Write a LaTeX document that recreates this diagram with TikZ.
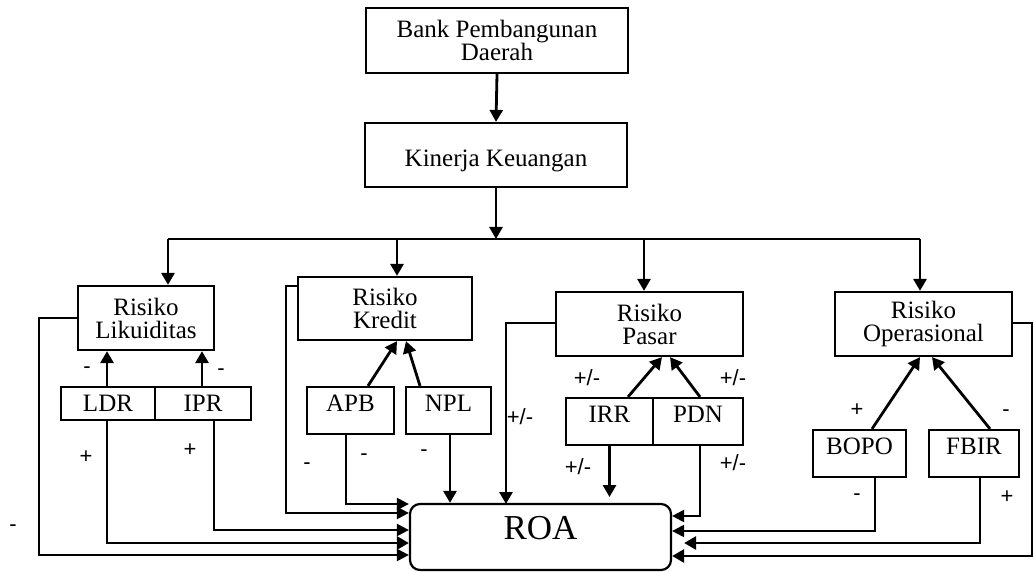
\documentclass[tikz,border=0pt]{standalone}
\usepackage{fontspec}
\setmainfont{Liberation Serif}
\newfontfamily\lblfont{Liberation Sans}
\usetikzlibrary{arrows.meta,calc}
\begin{document}
\begin{tikzpicture}[x=0.5pt,y=-0.5pt,
  box/.style={draw,line width=1.1pt,inner sep=0pt,align=center,font=\fontsize{12.5}{11.5}\selectfont},
  roabox/.style={draw,line width=1.1pt,rounded corners=5pt,inner sep=0pt,font=\fontsize{17.5}{17}\selectfont},
  arr/.style={line width=1.4pt,-{Triangle[length=6pt,width=6.5pt]}},
  tarr/.style={line width=1.1pt,-{Triangle[length=6pt,width=6pt]}},
  ln/.style={line width=1.1pt},
  lbl/.style={font=\lblfont\fontsize{11}{11}\selectfont,inner sep=0pt}]
\useasboundingbox (0,0) rectangle (1034,572);
% boxes
\node[box,minimum width=131pt,minimum height=32.5pt] (bank) at (497,40.5) {Bank Pembangunan\\Daerah};
\node[box,minimum width=131pt,minimum height=32pt] (kin) at (496,155) {\smash{\raisebox{-6pt}{Kinerja Keuangan}}};
\node[box,minimum width=68pt,minimum height=32pt] (lik) at (146,318) {Risiko\\Likuiditas};
\node[box,minimum width=87pt,minimum height=31.5pt] (kre) at (385,308.5) {Risiko\\Kredit};
\node[box,minimum width=93.5pt,minimum height=32pt] (pas) at (649.5,324) {Risiko\\Pasar};
\node[box,minimum width=88.5pt,minimum height=32pt] (ope) at (923.5,324) {Risiko\\Operasional};
\node[box,minimum width=47pt,minimum height=16.5pt] (ldr) at (108,403.5) {LDR};
\node[box,minimum width=48pt,minimum height=16.5pt] (ipr) at (203,403.5) {IPR};
\node[box,minimum width=43.5pt,minimum height=23.5pt] (apb) at (350.5,410.5) {\smash{\raisebox{-0.3pt}{APB}}};
\node[box,minimum width=42.5pt,minimum height=23.5pt] (npl) at (448.5,410.5) {\smash{\raisebox{-0.3pt}{NPL}}};
\node[box,minimum width=43.5pt,minimum height=23.5pt] (irr) at (609.5,421.5) {\smash{\raisebox{-0.6pt}{IRR}}};
\node[box,minimum width=45pt,minimum height=23.5pt] (pdn) at (698,421.5) {\smash{\raisebox{-0.6pt}{PDN}}};
\node[box,minimum width=46.5pt,minimum height=23.5pt] (bopo) at (859.5,453.5) {\smash{\raisebox{-0.6pt}{BOPO}}};
\node[box,minimum width=45pt,minimum height=23.5pt] (fbir) at (974,453.5) {\smash{\raisebox{-0.6pt}{FBIR}}};
\node[roabox,minimum width=130.5pt,minimum height=33pt] (roa) at (540.5,537) {\smash{\raisebox{-1pt}{ROA}}};
% top chain
\draw[arr] (bank.south) -- (kin.north);
\coordinate (busL) at (168,239);
\coordinate (busR) at (920,239);
\coordinate (bK) at (397,239);
\coordinate (bP) at (644,239);
\draw[arr] (kin.south) -- (kin.south |- busL);
\draw[ln] (busL) -- (busR);
\draw[arr] (busL) -- (busL |- lik.north);
\draw[arr] (bK) -- (bK |- kre.north);
\draw[arr] (bP) -- (bP |- pas.north);
\draw[arr] (busR) -- (busR |- ope.north);
% indicators to risks
\coordinate (ldrT) at (107,387);
\coordinate (iprT) at (202,387);
\draw[arr] (ldrT) -- (ldrT |- lik.south);
\draw[arr] (iprT) -- (iprT |- lik.south);
\draw[arr] ($(apb.north)+(17.5,0)$) -- ($(kre.south)+(12,0)$);
\draw[arr] ($(npl.north)+(-28.5,0)$) -- ($(kre.south)+(21,0)$);
\draw[arr] ($(irr.north)+(18.5,0)$) -- ($(pas.south)+(12.5,0)$);
\draw[arr] ($(pdn.north)+(2,0)$) -- ($(pas.south)+(20.5,0)$);
\draw[arr] ($(bopo.north)+(12.5,0)$) -- ($(ope.south)+(-3.5,0)$);
\draw[arr] ($(fbir.north)+(16,0)$) -- ($(ope.south)+(8.5,0)$);
% left side to ROA
\coordinate (c1) at (39,555);
\draw[tarr] (lik.west) -| (c1) -- (c1 -| roa.west);
\coordinate (ldrB) at (107,420);
\draw[arr] (ldrB) |- ($(roa.west)+(0,6)$);
\draw[tarr] ($(ipr.south)+(11,0)$) |- ($(roa.west)+(0,-7)$);
\coordinate (k1) at (286,513);
\draw[tarr] ($(kre.north west)+(0,10)$) -| (k1) -- (k1 -| roa.west);
\draw[tarr] ($(apb.south)+(-4.5,0)$) |- ($(roa.west)+(0,-33)$);
\coordinate (nplB) at (450,434);
\draw[arr] (nplB) -- (nplB |- roa.north);
\coordinate (p1) at (506,504);
\draw[arr] ($(pas.west)+(0,-1)$) -| (p1);
% right side to ROA
\coordinate (irrEnd) at (610,497);
\draw[arr] (irr.south) -- (irr.south |- irrEnd);
\draw[tarr] ($(pdn.south)+(2,0)$) |- ($(roa.east)+(0,-21)$);
\draw[tarr] ($(bopo.south)+(15.5,0)$) |- ($(roa.east)+(0,-6)$);
\draw[arr] ($(fbir.south)+(6,0)$) |- ($(roa.east)+(12,6)$);
\coordinate (o1) at (1032,556);
\draw[arr] ($(ope.east)+(0,-1)$) -| (o1) -- (o1 -| roa.east);
% labels
\node[lbl] (l1) at (87,370) {-};
\node[lbl] (l2) at (221,372) {-};
\node[lbl] (l3) at (86,457) {+};
\node[lbl] (l4) at (190,450) {+};
\node[lbl] (l5) at (13,528) {-};
\node[lbl] (l6) at (307,466) {-};
\node[lbl] (l7) at (364,457) {-};
\node[lbl] (l8) at (424,453) {-};
\node[lbl] (l9) at (520,417) {+/-};
\node[lbl] (l10) at (587,378) {+/-};
\node[lbl] (l11) at (733,378) {+/-};
\node[lbl] (l12) at (578,467) {+/-};
\node[lbl] (l13) at (733,463) {+/-};
\node[lbl] (l14) at (857,410) {+};
\node[lbl] (l15) at (1006,413) {-};
\node[lbl] (l16) at (857,497) {-};
\node[lbl] (l17) at (1007,497) {+};
\end{tikzpicture}
\end{document}
